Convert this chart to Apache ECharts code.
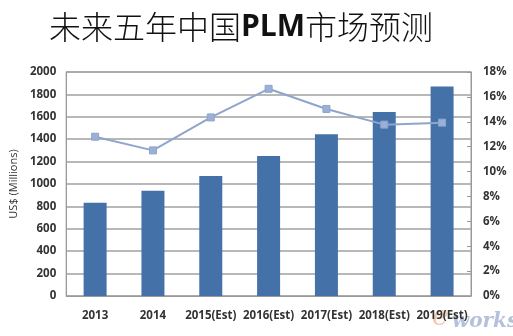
<!DOCTYPE html>
<html><head><meta charset="utf-8">
<script src="https://cdn.jsdelivr.net/npm/echarts@6/dist/echarts.min.js"></script>
<style>html,body{margin:0;padding:0;background:#fff}#c{width:513px;height:336px}</style>
</head><body><div id="c"></div>
<script>
var categories = ['2013','2014','2015(Est)','2016(Est)','2017(Est)','2018(Est)','2019(Est)'];
var revenue = [833, 940, 1071, 1250, 1444, 1643, 1870];
var growth = [12.8, 11.7, 14.35, 16.65, 15.03, 13.77, 13.93];
var titleCJK1 = '未来五年中国';
var titleLatin = 'PLM';
var titleCJK2 = '市场预测';
var yName = 'US$ (Millions)';

var chart = echarts.init(document.getElementById('c'), null, {renderer:'canvas'});
var lblFont = {fontFamily:'Open Sans', fontWeight:'bold', fontSize:11.5, color:'#333'};
chart.setOption({
  animation:false,
  backgroundColor:'#fff',
  title:{
    text:'{a|'+titleCJK1+'}{b|'+titleLatin+'}{a|'+titleCJK2+'}',
    left:44, top:6,
    textStyle:{
      rich:{
        a:{fontFamily:'Noto Sans CJK SC', fontSize:32, fontWeight:300, color:'#111'},
        b:{fontFamily:'Open Sans', fontSize:30, fontWeight:'bold', color:'#111'}
      }
    }
  },
  grid:{left:64, right:42, top:72, bottom:40, show:true, borderColor:'#999', borderWidth:1},
  xAxis:{
    type:'category', data:categories,
    axisLine:{lineStyle:{color:'#999'}},
    axisTick:{show:false},
    axisLabel:Object.assign({margin:14, interval:0}, lblFont)
  },
  yAxis:[{
    type:'value', min:0, max:2000, interval:200,
    name:yName, nameLocation:'middle', nameGap:39,
    nameTextStyle:{fontFamily:'Open Sans', fontSize:11, color:'#333'},
    axisLine:{show:true, lineStyle:{color:'#999'}},
    axisTick:{show:false},
    axisLabel:Object.assign({margin:10, formatter:function(v){return String(v);}}, lblFont),
    splitLine:{lineStyle:{color:'#a0a0a0', width:1.5}}
  },{
    type:'value', min:0, max:18, interval:2, position:'right',
    axisLine:{show:true, lineStyle:{color:'#999'}},
    axisTick:{show:true, inside:true, length:4, lineStyle:{color:'#999'}},
    axisLabel:Object.assign({margin:12, formatter:'{value}%'}, lblFont),
    splitLine:{show:false}
  }],
  series:[{
    type:'bar', data:revenue, barWidth:23,
    itemStyle:{color:'#4571a9'}
  },{
    type:'line', yAxisIndex:1, data:growth,
    symbol:'rect', symbolSize:7,
    lineStyle:{color:'#8ea5cc', width:2},
    itemStyle:{color:'#9ab0d6', borderColor:'#8ea5cc', borderWidth:1}
  }],
  graphic:[{
    type:'text', left:452, top:312,
    style:{text:'works', fontFamily:'DejaVu Serif', fontStyle:'italic', fontWeight:'bold', fontSize:20, fill:'rgba(120,140,190,0.55)'}
  },{
    type:'text', left:432, top:304,
    style:{text:'e', fontFamily:'DejaVu Serif', fontStyle:'italic', fontSize:28, fill:'rgba(240,150,90,0.5)'}
  }]
});
</script></body></html>
